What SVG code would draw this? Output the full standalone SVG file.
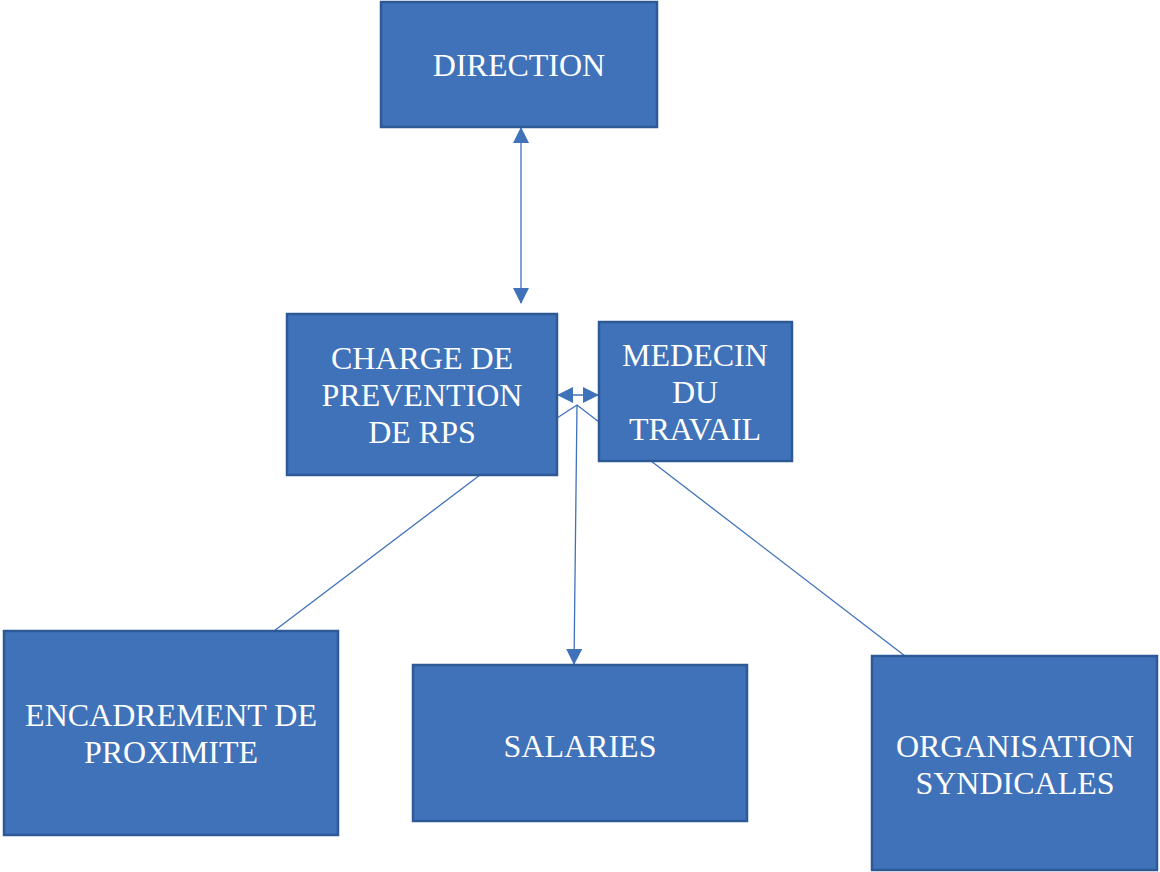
<svg xmlns="http://www.w3.org/2000/svg" width="1160" height="872" viewBox="0 0 1160 872">
<style>
.box{fill:#4072BA;stroke:#2D5A96;stroke-width:2.5}
.t{font-family:"Liberation Serif","Times New Roman",serif;font-size:32px;fill:#FFFFFF;text-anchor:middle}
.c{stroke:#4072BA;stroke-width:1.3;fill:none}
</style>
<defs>
<marker id="ah2" viewBox="0 0 16 16" refX="15" refY="8" markerWidth="16" markerHeight="16" markerUnits="userSpaceOnUse" orient="auto-start-reverse">
<path d="M0,0 L16,8 L0,16 z" fill="#4072BA"/>
</marker>
</defs>
<rect width="1160" height="872" fill="#FFFFFF"/>
<g id="connectors">
<line class="c" x1="521" y1="128" x2="521" y2="303" marker-start="url(#ah2)" marker-end="url(#ah2)"/>
<line class="c" x1="558" y1="395" x2="598" y2="395" marker-start="url(#ah2)" marker-end="url(#ah2)"/>
<polyline class="c" points="557,418 577,405 599,422"/>
<line class="c" x1="577" y1="405" x2="574" y2="664" marker-end="url(#ah2)"/>
<line class="c" x1="480" y1="475" x2="274" y2="631"/>
<line class="c" x1="651" y1="461" x2="905" y2="656"/>
</g>
<g id="direction">
<rect class="box" x="381" y="2" width="276" height="125"/>
<text class="t" x="519" y="76">DIRECTION</text>
</g>
<g id="charge">
<rect class="box" x="287" y="314" width="270" height="161"/>
<text class="t" x="422" y="369">CHARGE DE</text>
<text class="t" x="422" y="406">PREVENTION</text>
<text class="t" x="422" y="443">DE RPS</text>
</g>
<g id="medecin">
<rect class="box" x="599" y="322" width="193" height="139"/>
<text class="t" x="695" y="366">MEDECIN</text>
<text class="t" x="695" y="403">DU</text>
<text class="t" x="695" y="440">TRAVAIL</text>
</g>
<g id="encadrement">
<rect class="box" x="4" y="631" width="334" height="204"/>
<text class="t" x="171" y="726">ENCADREMENT DE</text>
<text class="t" x="171" y="763">PROXIMITE</text>
</g>
<g id="salaries">
<rect class="box" x="413" y="665" width="334" height="156"/>
<text class="t" x="580" y="757">SALARIES</text>
</g>
<g id="organisation">
<rect class="box" x="872" y="656" width="285" height="214"/>
<text class="t" x="1015" y="757">ORGANISATION</text>
<text class="t" x="1015" y="794">SYNDICALES</text>
</g>
</svg>
